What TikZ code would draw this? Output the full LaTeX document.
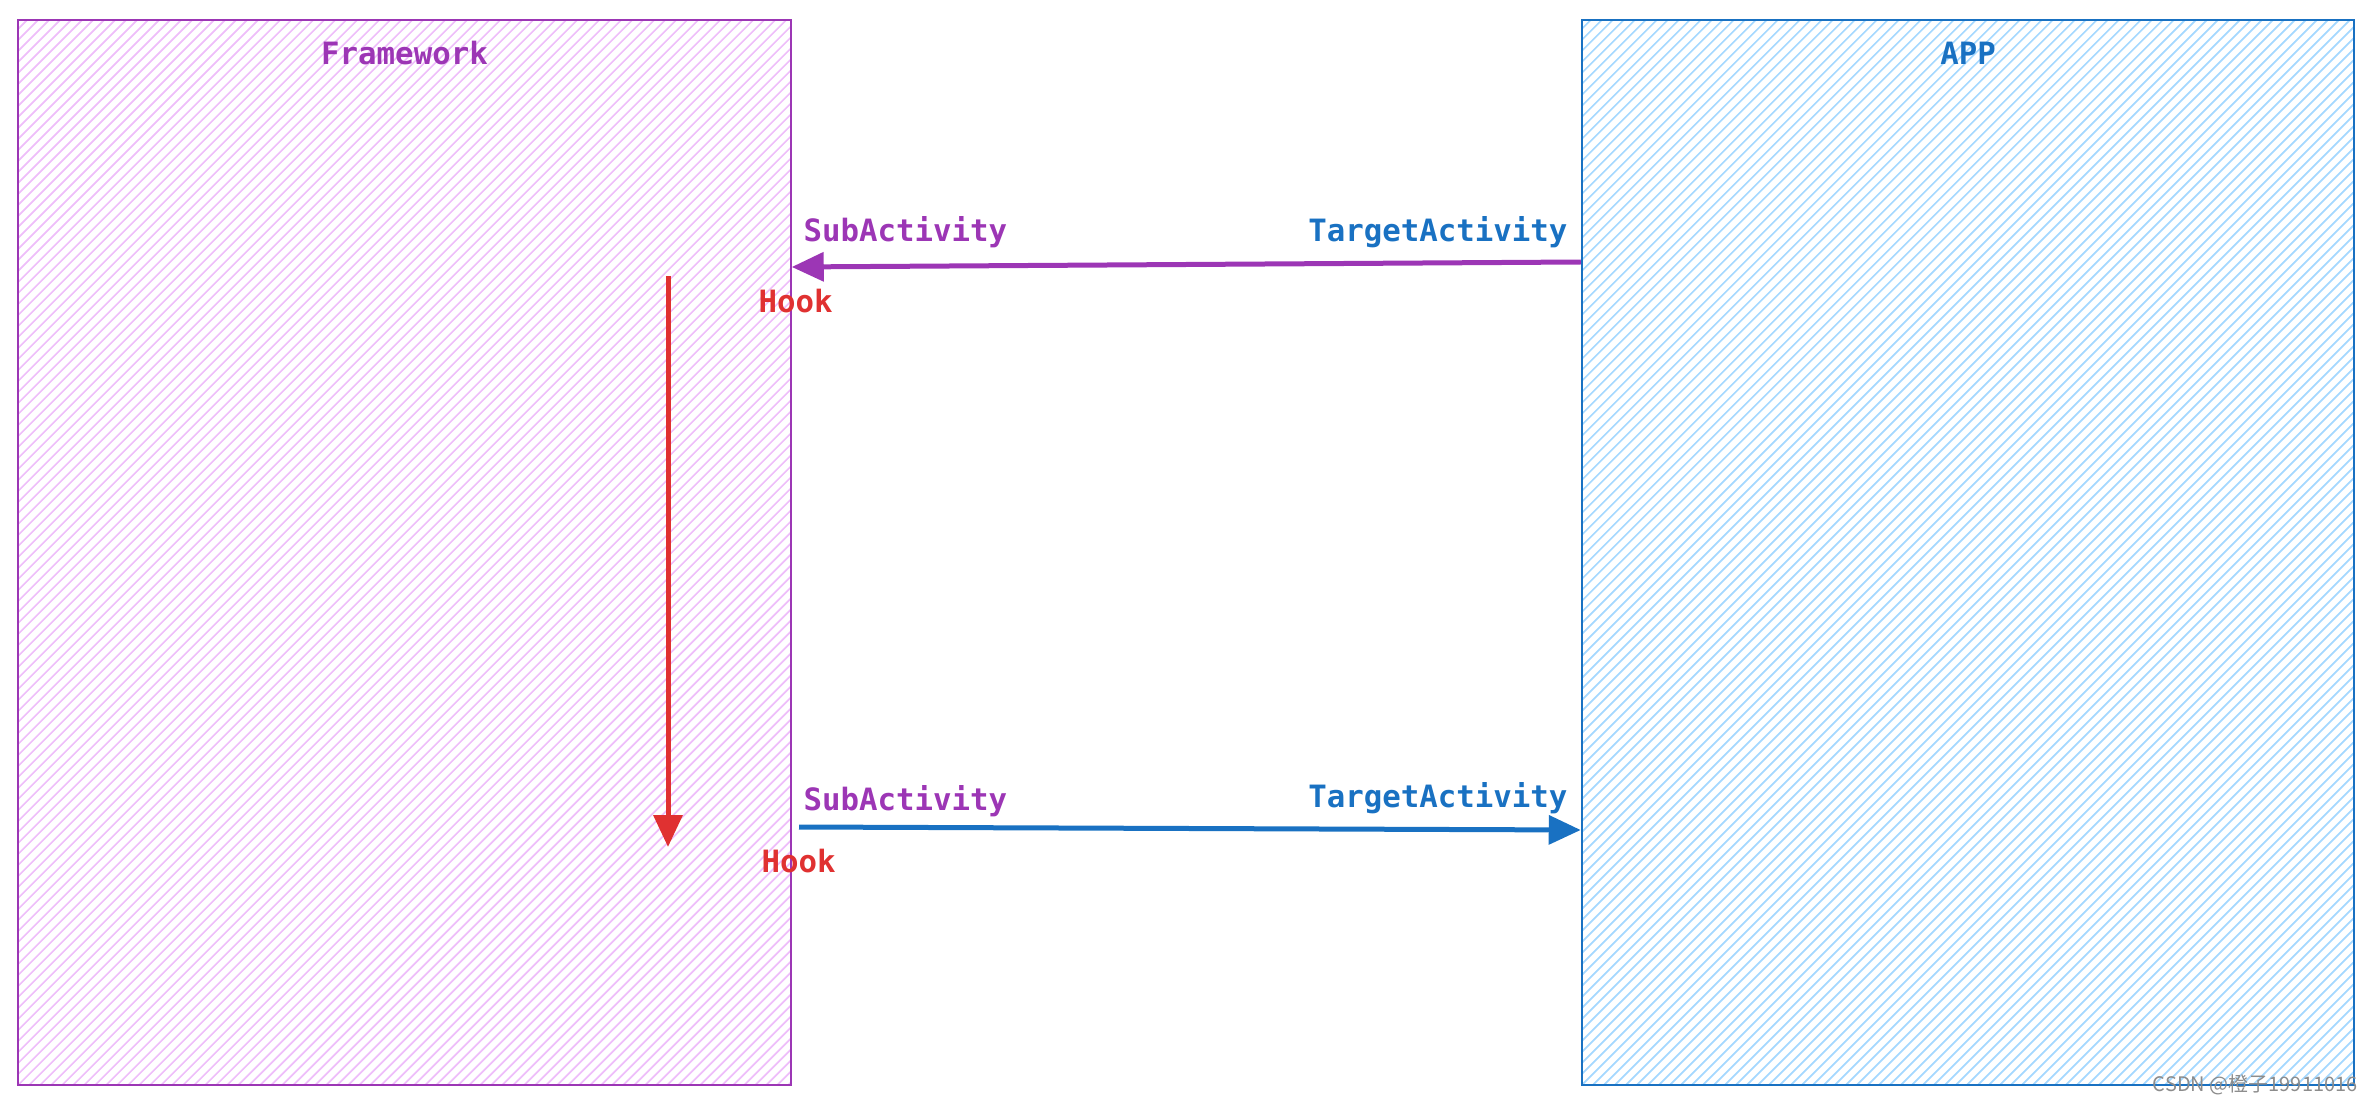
\documentclass[tikz,border=0pt]{standalone}
\usepackage{fontspec}
\setmonofont{DejaVu Sans Mono}
\newfontfamily\cjkfont{Noto Sans CJK SC}
\usetikzlibrary{arrows.meta,calc}
\definecolor{fwpurple}{HTML}{9C36B5}
\definecolor{appblue}{HTML}{1971C2}
\definecolor{hookred}{HTML}{E03131}
\definecolor{fwhatch}{HTML}{EEBEFA}
\definecolor{apphatch}{HTML}{A5D8FF}
\tikzset{
  hatchbox/.style n args={2}{draw=#1, line width=0.8pt, minimum width=309pt, minimum height=426pt, inner sep=0pt,
    path picture={\foreach \s in {-440,-435.6,...,320}{\draw[#2, line width=0.7pt] ([xshift=\s pt]path picture bounding box.south west) -- ++(440pt,440pt);}}},
  lbl/.style={font=\ttfamily\bfseries\fontsize{12.3}{14}\selectfont, inner sep=0pt},
  conn/.style={line width=2pt, -{Triangle[length=12.8pt,width=11.4pt]}},
}
\begin{document}
\begin{tikzpicture}[x=0.4pt,y=-0.4pt]
\useasboundingbox (0,0) rectangle (2374,1105);
\node[hatchbox={fwpurple}{fwhatch}] (fw) at (404.5,552.5) {};
\node[hatchbox={appblue}{apphatch}] (app) at (1968,552.5) {};
\node[lbl, text=fwpurple] (fwlabel) at (404.5,53) {Framework};
\node[lbl, text=appblue] (applabel) at (1968,53) {APP};
% top arrow
\coordinate (t1) at (app.west |- 0,262);
\coordinate (t2) at (fw.east |- 0,267);
\draw[conn, fwpurple] (t1) -- (t2);
\node[lbl, text=fwpurple, anchor=base west] (sub1) at (803,242) {SubActivity};
\node[lbl, text=appblue, anchor=base east] (tgt1) at (1568,242) {TargetActivity};
\node[lbl, text=hookred, anchor=base west] (hook1) at (758,313) {Hook};
% bottom arrow
\coordinate (b1) at (799,827);
\coordinate (b2) at (app.west |- 0,830);
\draw[conn, appblue] (b1) -- (b2);
\node[lbl, text=fwpurple, anchor=base west] (sub2) at (803,810) {SubActivity};
\node[lbl, text=appblue, anchor=base east] (tgt2) at (1568,807) {TargetActivity};
\node[lbl, text=hookred, anchor=base west] (hook2) at (761,872) {Hook};
% red arrow
\coordinate (r1) at (668,276);
\coordinate (r2) at (668,847);
\draw[conn, hookred] (r1) -- (r2);
% watermark
\node[font=\cjkfont\fontsize{8}{9}\selectfont, text=black!45, anchor=base east, inner sep=0pt] (wm) at (2358,1091) {CSDN @橙子19911016};
\end{tikzpicture}
\end{document}
